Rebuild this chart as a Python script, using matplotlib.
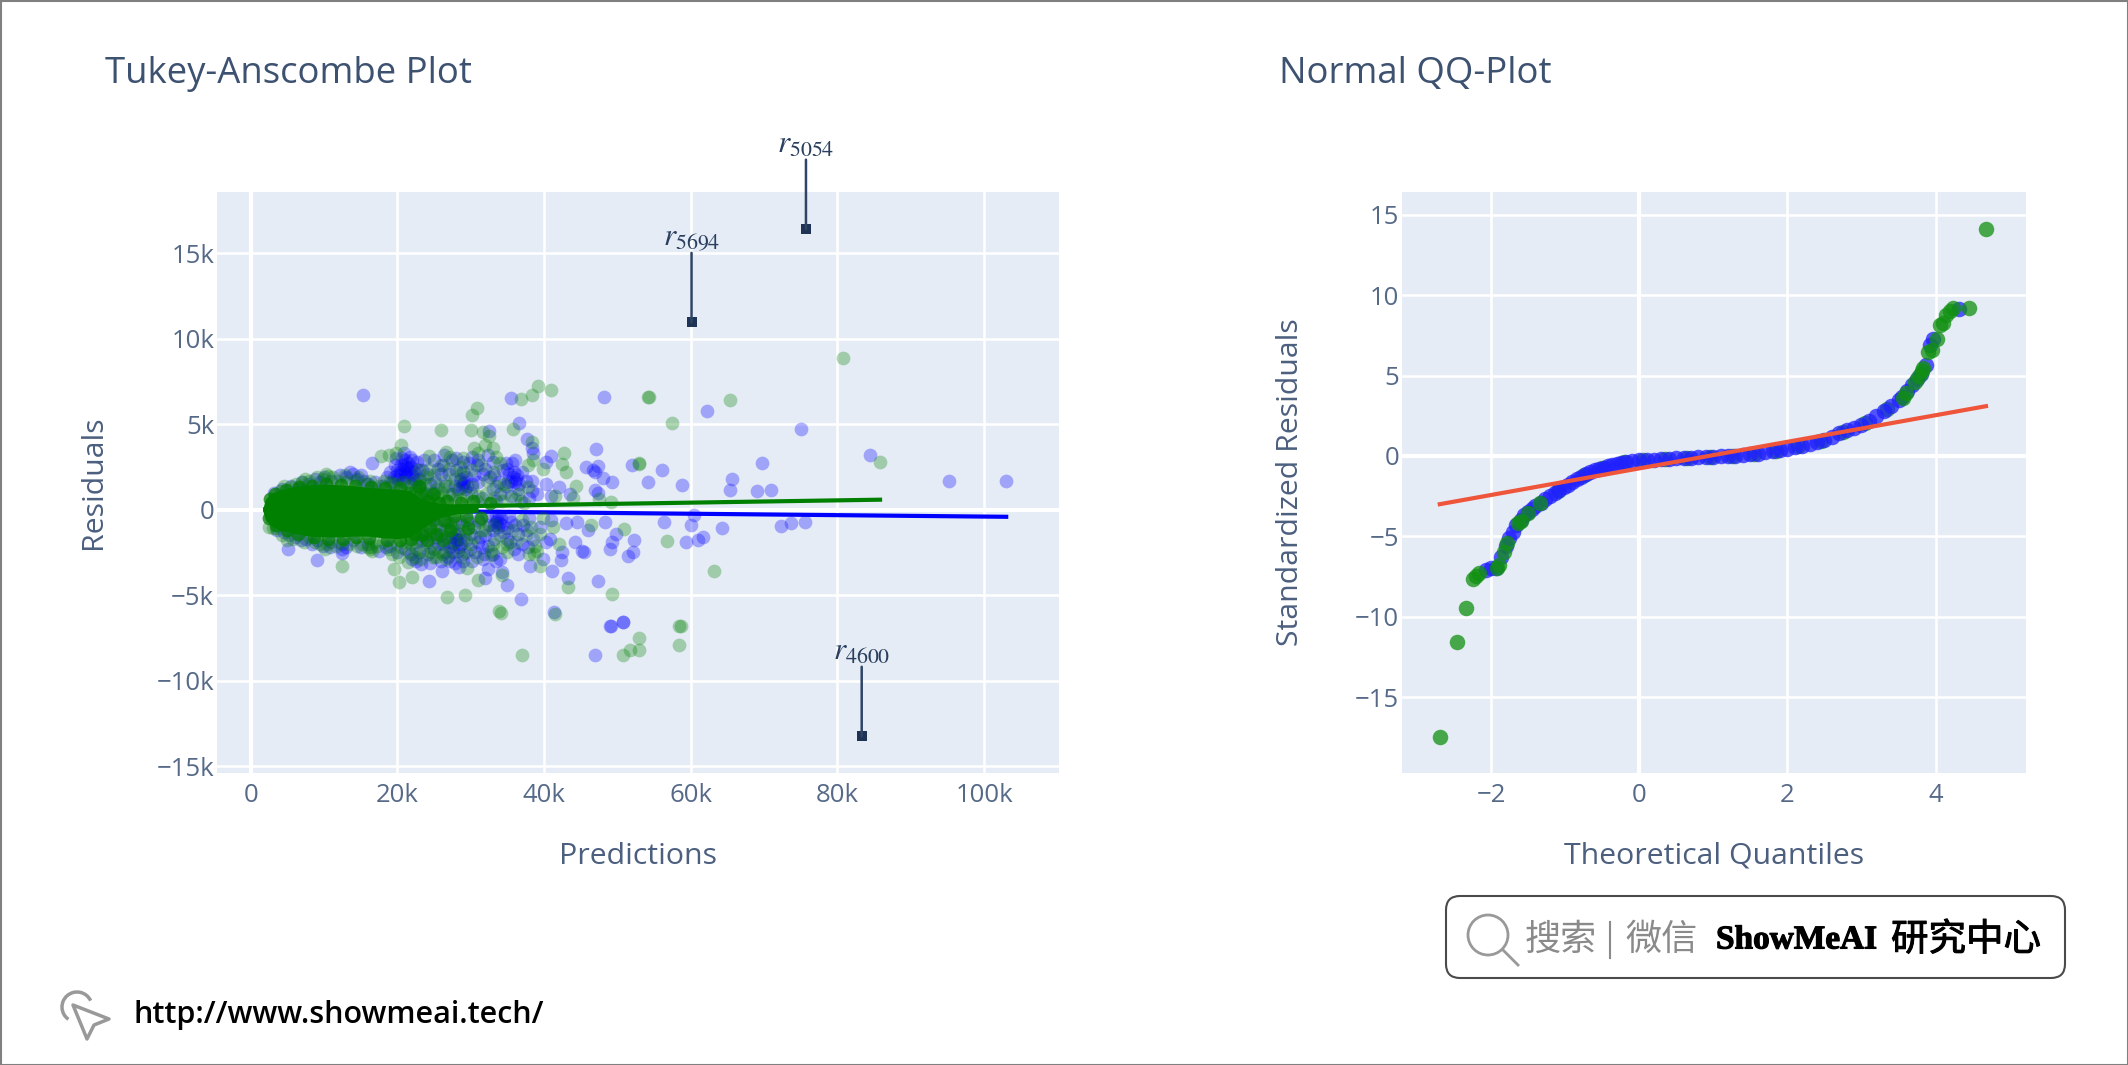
import matplotlib
matplotlib.use('Agg')
import matplotlib.pyplot as plt
import matplotlib.patheffects as pe
from matplotlib.patches import FancyBboxPatch, Arc, Circle, Polygon

plt.rcParams['font.family'] = ['Open Sans', 'DejaVu Sans']
plt.rcParams['mathtext.fontset'] = 'stix'

W, H = 2128, 1065

# residuals, both axes in thousands
blue_points = [
    (15.3, 6.69), (35.5, 6.53), (48.2, 6.59), (36.6, 5.07), (32.5, 4.6), (37.6, 4.15), (16.5, 2.75), (47.1, 3.57),
    (41.0, 3.12), (52.0, 2.6), (56.1, 2.34), (54.2, 1.62), (58.8, 1.42), (49.3, 1.62), (45.7, 2.5), (47.3, 2.53),
    (46.6, 2.3), (46.9, 2.2), (48.0, 1.85), (47.0, 1.13), (47.4, 1.0), (40.2, 2.79), (38.4, 3.6), (38.5, 3.3),
    (38.4, 1.7), (40.2, 1.5), (42.0, 1.3), (38.4, 1.1), (36.6, 1.5), (39.0, 0.9), (41.0, 0.8), (43.5, 0.9),
    (5.1, -2.32), (9.0, -2.96), (12.4, -2.28), (12.4, -2.53), (24.3, -4.17), (26.1, -3.59), (28.4, -3.35),
    (32.4, -3.5), (32.0, -3.98), (35.0, -4.39), (36.8, -5.22), (34.2, -3.65), (38.1, -3.31), (41.1, -3.59),
    (43.3, -3.98), (47.4, -4.17), (49.1, -6.8), (50.7, -6.57), (42.5, -2.5), (42.3, -2.95), (39.8, -2.9),
    (45.2, -2.4), (45.4, -2.5), (49.0, -2.3), (51.5, -2.7), (52.1, -2.5), (52.3, -1.8), (49.8, -1.4), (49.3, -1.9),
    (48.3, -0.7), (56.3, -0.7), (59.3, -1.9), (60.4, -0.3), (61.0, -1.8),
    (103.0, 1.7), (95.2, 1.7), (84.4, 3.2), (75.0, 4.7), (62.2, 5.75), (69.7, 2.7), (71.0, 1.15), (69.0, 1.1),
    (65.6, 1.8), (65.4, 1.15), (72.3, -0.97), (75.6, -0.75), (73.6, -0.8), (60.0, -0.9), (61.7, -1.6), (64.3, -1.05),
    (50.8, -6.6), (49.0, -6.8), (47.0, -8.5), (41.3, -6.0), (34.0, -2.9), (37.8, -2.2), (40.2, -1.9),
    (40.8, -1.7), (44.2, -1.9), (46.0, -1.2), (44.5, -0.7), (43.0, -0.8), (41.0, -0.6), (39.5, -1.0), (38.0, -0.5),
    # dense part of the cloud
    (20.0, 2.3), (20.5, 2.6), (21.0, 2.2), (21.5, 2.7), (22.0, 2.0), (22.5, 2.4), (19.5, 1.9), (20.8, 1.7),
    (21.8, 1.5), (23.0, 1.8), (19.0, 2.2), (20.0, 1.4), (22.0, 2.9), (21.0, 2.9), (20.3, 2.0), (21.4, 2.4),
    (21.2, 1.9), (22.6, 1.6), (24.5, 1.5), (25.5, 2.4), (26.2, 2.6), (27.0, 2.1), (28.0, 2.3), (28.5, 1.7),
    (28.9, 1.5), (29.2, 1.2), (28.6, 1.8), (29.8, 2.7), (30.5, 2.0), (31.0, 1.6), (32.0, 2.4), (32.6, 1.9),
    (33.0, 1.2), (34.0, 0.9), (35.7, 1.9), (35.2, 2.1), (36.0, 1.6), (36.5, 1.2), (35.5, 0.8), (34.8, 1.4),
    (13.0, 1.9), (13.5, 2.2), (14.5, 1.8), (15.5, 1.7), (16.0, 1.5), (17.0, 1.6), (18.0, 1.4), (11.0, 1.7),
    (9.5, 1.6), (8.0, 1.5), (6.5, 1.2), (4.5, -1.3), (6.0, -1.6), (7.5, -1.7), (9.0, -1.8), (11.0, -1.9),
    (12.5, -2.0), (14.0, -1.8), (16.0, -2.0), (17.5, -2.4), (19.0, -2.1), (20.0, -2.5), (21.0, -2.3), (22.0, -2.9),
    (23.0, -2.5), (24.0, -1.9), (24.5, -1.4), (25.0, -2.3), (25.5, -2.0), (26.0, -1.5), (26.5, -2.5), (27.0, -1.9),
    (27.5, -1.6), (28.0, -1.7), (28.3, -1.4), (28.6, -2.0), (27.2, -2.2), (26.5, -1.2), (30.0, -1.4), (30.5, -1.0),
    (31.0, -1.9), (31.5, -2.2), (32.0, -1.5), (32.5, -0.9), (33.0, -1.2), (33.6, -0.6), (33.9, -0.8), (33.4, -0.4),
    (34.5, -1.3), (35.0, -1.1), (35.5, -0.7), (36.0, -0.9), (29.5, -0.6), (27.8, -0.8), (25.2, -0.9), (23.5, -1.3),
    (23.8, 0.9), (25.0, 1.0), (26.5, 1.4), (27.5, 0.9), (30.0, 1.0), (31.5, 0.7), (33.5, 0.5), (36.8, 0.5),
    (19.7, 2.6), (20.6, 3.0), (21.2, 2.5), (22.3, 2.2), (23.4, 2.3), (20.1, 1.8), (19.2, 1.6), (18.6, 1.9),
    (22.9, 1.3), (24.0, 2.1), (25.1, 1.6), (26.0, 2.1), (27.4, 2.9), (27.9, 1.4), (29.0, 2.2), (29.4, 1.9),
    (30.2, 1.5), (30.9, 2.6), (31.6, 2.1), (33.2, 2.0), (33.9, 1.6), (34.4, 2.3), (35.0, 2.4), (36.3, 2.0),
    (21.8, -2.6), (22.5, -1.9), (23.4, -1.8), (24.2, -2.6), (25.4, -1.6), (26.2, -2.0), (26.9, -2.8), (27.6, -2.5),
    (28.2, -2.4), (28.9, -2.6), (29.4, -1.8), (29.9, -2.3), (30.6, -2.5), (31.3, -1.6), (31.8, -2.6), (32.3, -2.1),
    (33.1, -1.7), (33.7, -1.0), (34.1, -0.5), (34.9, -1.7), (35.4, -1.9), (36.4, -1.4), (37.1, -0.9), (37.6, -1.2),
    (12.2, 2.0), (14.0, 2.1), (15.0, 2.0), (10.0, 1.9), (8.8, 1.8), (7.0, 1.6), (5.5, 1.4), (4.2, 1.2), (3.2, 1.0),
    (3.6, -1.2), (5.2, -1.5), (6.8, -1.8), (8.3, -2.0), (9.8, -2.1), (10.8, -2.2), (13.0, -2.2), (15.0, -2.2), (18.4, -2.2),
    (22.4, -0.9), (24.8, -0.6), (26.8, -0.7), (28.8, -0.9), (31.0, -0.6), (32.2, -0.4), (35.2, -0.4), (37.9, 0.7),
    (19.8, 3.0), (20.9, 3.3), (21.7, 3.1), (22.7, 2.8), (23.6, 2.9), (25.0, 2.9), (26.4, 3.2), (28.0, 3.0), (28.9, 2.8),
    (30.1, 3.1), (31.0, 2.9), (32.4, 3.2), (33.0, 2.8), (34.8, 2.7), (35.6, 2.7), (36.0, 2.9), (37.0, 2.2), (37.5, 1.7),
    (27.1, -3.0), (27.9, -3.1), (25.9, -3.0), (24.4, -3.1), (23.2, -3.2), (22.6, -3.0), (30.2, -3.0), (31.6, -2.9),
    (33.0, -2.6), (33.5, -3.0), (35.9, -2.3), (36.5, -2.6), (37.0, -2.0), (38.5, -1.7), (29.0, -3.0), (28.4, -2.2),
    (27.9, -1.5), (28.1, -1.8), (27.7, -2.0), (28.5, -1.7), (33.5, -0.7), (33.8, -0.4), (33.2, -0.9), (34.2, -0.9),
    (35.5, 1.7), (35.9, 2.2), (36.2, 1.8), (35.1, 1.6), (28.8, 1.3), (29.1, 1.6), (28.3, 1.2), (29.5, 1.4),
    (20.4, 2.2), (20.7, 2.4), (21.1, 2.0), (21.6, 2.2), (21.9, 2.5), (20.9, 2.6), (22.2, 1.8), (19.9, 2.0),
]
green_points = [
    (39.2, 7.23), (41.0, 6.98), (38.4, 6.69), (36.8, 6.49), (30.9, 5.95), (30.1, 5.56), (20.9, 4.87), (26.0, 4.68),
    (30.0, 4.68), (31.6, 4.54), (35.7, 4.74), (54.2, 6.59), (57.4, 5.09), (20.5, 3.76), (17.7, 3.14), (19.8, 3.31),
    (18.9, 3.18), (24.3, 3.12), (26.6, 3.37), (27.2, 3.1), (38.4, 3.96), (42.7, 3.33), (42.5, 2.65), (43.0, 2.2),
    (44.3, 1.38), (53.0, 2.69), (49.1, 0.45), (56.8, -1.83), (50.9, -1.11), (46.4, -0.92), (2.5, -1.01), (12.5, -3.31),
    (19.5, -3.49), (20.2, -4.23), (22.0, -3.94), (26.8, -5.11), (29.2, -5.01), (34.1, -6.04), (41.5, -6.12),
    (49.3, -4.91), (43.2, -4.52), (58.4, -6.82), (31.0, -4.09), (29.5, -3.39), (42.0, -1.99), (34.3, -3.84),
    (39.5, -3.31), (38.6, -2.57), (35.0, -2.48), (32.7, -2.67), (29.3, -2.48), (25.2, -2.77), (21.4, -3.06),
    (20.2, -2.77), (16.4, -2.18), (10.1, -2.28), (5.0, -1.8), (7.0, 1.62), (10.6, 1.97), (11.8, 1.7), (14.3, 1.7),
    (32.0, 3.8), (33.0, 3.6), (33.5, 3.1), (34.0, 2.7), (31.0, 3.3), (30.5, 3.6), (37.8, 2.6), (38.5, 2.9), (39.8, 2.4),
    (32.5, 4.3), (33.0, 2.2), (34.5, 1.5), (28.5, 2.5), (29.0, 3.0), (25.0, 2.0), (26.5, 1.7), (24.0, 1.9), (23.0, 2.3),
    (65.4, 6.4), (80.8, 8.85), (85.8, 2.8), (63.2, -3.6), (58.6, -6.8), (58.4, -7.9), (52.9, -7.5), (52.9, -8.2),
    (51.7, -8.2), (50.7, -8.5), (37.0, -8.5), (33.9, -5.9), (54.3, 6.6), (53.0, 2.7), (47.5, 0.6), (44.0, 0.7), (41.5, 0.8),
    (19.0, 1.6), (21.5, 1.4), (22.5, 1.2), (24.0, 1.0), (25.5, 0.8), (27.0, 0.9), (28.5, 0.6), (31.0, 0.8),
    (22.8, -1.7), (24.5, -2.2), (25.8, -1.2), (26.2, -2.6), (27.5, -1.1), (29.2, -1.3), (30.0, -2.0), (31.5, -1.2),
    (33.0, -2.0), (35.0, -2.0), (37.5, -1.5), (38.8, -2.1), (39.0, -2.4), (20.5, -2.2), (21.8, -2.0), (18.0, -1.9),
    (19.2, -2.6), (23.5, -2.4), (12.0, -1.9), (14.5, -2.1), (9.5, -2.0), (16.8, -1.9), (8.0, -1.6), (3.4, -1.1),
    (4.0, 1.1), (5.5, 1.3), (8.0, 1.7), (9.8, 1.8), (13.0, 1.6), (15.8, 1.5), (17.5, 1.4), (25.5, 1.3),
    # green layer over the inner band
    (22.3, 1.6), (23.2, 1.1), (23.8, 1.5), (24.6, 0.7), (25.2, 1.2), (26.1, 1.0), (26.9, 1.4), (27.8, 0.6), (28.2, 1.1),
    (29.3, 0.8), (30.2, 1.3), (30.8, 0.5), (32.1, 0.9), (33.2, 0.7), (34.2, 0.5), (36.0, 0.6), (37.2, 0.4), (23.1, -0.9),
    (23.8, -1.4), (24.4, -0.7), (25.1, -1.6), (25.9, -0.6), (26.6, -1.6), (27.1, -0.8), (27.9, -1.9), (28.6, -0.7),
    (29.0, -1.7), (29.8, -0.8), (30.4, -1.6), (31.1, -0.7), (32.0, -1.2), (33.2, -0.9), (34.0, -1.5), (35.8, -1.2),
    (37.0, -0.6), (38.2, -1.0), (39.9, -0.5), (41.2, -1.0), (22.2, 0.8), (23.5, 0.6), (25.0, 0.5), (26.4, 0.6), (23.9, -0.5),
    (24.9, -1.0), (25.5, -0.5), (26.9, -1.1), (27.4, -0.5), (28.3, -1.2), (22.9, -1.1), (22.4, -0.6),
    (4.6, 1.4), (6.2, 1.5), (7.4, 1.8), (9.0, 1.9), (10.2, 2.1), (11.2, 1.9), (12.8, 2.0), (14.6, 1.9), (16.2, 1.7),
    (18.2, 1.7), (19.6, 1.5), (20.8, 1.6), (3.0, -1.1), (4.2, -1.5), (5.8, -1.7), (7.2, -1.9), (8.7, -1.9), (10.4, -2.0),
    (11.6, -2.1), (13.4, -2.0), (15.2, -2.0), (16.0, -2.2), (17.2, -2.1), (18.8, -2.3), (19.9, -2.0), (21.2, -1.9),
    (21.6, -2.5), (22.6, -2.3), (16.2, -2.3), (16.6, -2.4), (24.8, -2.8), (25.6, -2.5),
    (23.4, 1.7), (24.3, 2.4), (25.9, 2.6), (27.0, 2.4), (27.9, 1.8), (28.7, 2.1), (30.0, 2.3), (31.4, 2.6), (32.2, 1.7),
    (33.4, 1.4), (34.6, 1.0), (36.4, 0.9), (37.8, 1.3), (22.4, -2.8), (23.2, -2.9), (24.6, -2.5), (26.6, -2.9), (27.3, -2.4),
    (28.7, -2.8), (30.8, -2.8), (32.8, -2.4), (34.2, -2.2), (36.2, -1.9), (38.0, -2.6), (39.4, -1.4),
]
# points that pile up so much that the pale colour turns almost solid
green_pile = [
    (2.6, 0.6), (2.5, -0.5), (3.3, 0.9), (3.5, -0.9), (4.8, 1.15), (5.0, -1.2), (6.6, 1.3), (6.4, -1.4), (8.4, 1.4),
    (8.6, -1.6), (10.2, 1.5), (10.6, -1.7), (12.3, 1.45), (12.6, -1.7), (14.2, 1.4), (14.4, -1.6), (16.4, 1.3), (16.1, -1.65),
    (18.3, 1.25), (18.6, -1.75), (20.3, 1.25), (20.4, -1.8), (21.6, 1.0), (21.9, -1.7), (22.4, -1.4), (23.2, 0.9), (23.4, -1.5),
    (24.1, 0.5), (24.4, -1.1), (25.3, -1.4), (25.6, 0.4), (26.4, -0.6), (26.8, 0.5), (27.2, -1.2), (27.7, -0.4), (28.6, 0.4),
    (29.4, -0.4), (29.6, -1.1), (30.3, 0.5), (31.4, -0.5), (32.6, 0.4), (24.0, -1.8), (22.9, 1.4), (24.9, 0.9), (26.2, -1.8),
]
# solid part of the cloud next to the origin, where single points cannot be told apart
core_x = [1.6, 2.0, 2.8, 4.0, 6.0, 8.0, 10.0, 12.0, 14.0, 16.0, 18.0, 20.0, 21.8, 23.0, 24.5, 26.0, 28.0, 31.0]
core_up = [0.0, 0.6, 0.95, 1.15, 1.35, 1.45, 1.5, 1.45, 1.4, 1.3, 1.25, 1.2, 1.1, 0.7, 0.5, 0.35, 0.28, 0.2]
core_low = [0.0, -0.6, -0.95, -1.2, -1.4, -1.55, -1.6, -1.6, -1.55, -1.55, -1.65, -1.7, -1.6, -1.2, -0.8, -0.45, -0.25, -0.15]

fit_blue_x = [2.0, 103.0]
fit_blue_y = [0.0, -0.42]
fit_green_x = [2.0, 85.8]
fit_green_y = [0.02, 0.58]

outlier_x = [75.7, 60.1, 83.3]
outlier_y = [16.4, 10.95, -13.25]
outlier_names = ['5054', '5694', '4600']

x_ticks_left = [0, 20, 40, 60, 80, 100]
x_labels_left = ['0', '20k', '40k', '60k', '80k', '100k']
y_ticks_left = [-15, -10, -5, 0, 5, 10, 15]
y_labels_left = ['\u221215k', '\u221210k', '\u22125k', '0', '5k', '10k', '15k']

qq_blue = [
    (-2.07, -7.1), (-2.0, -7.0), (-1.93, -6.97), (-1.86, -6.3), (-1.8, -5.6), (-1.75, -5.1), (-1.7, -4.7), (-1.66, -4.3),
    (-1.6, -4.0), (-1.55, -3.7), (-1.5, -3.5), (-1.45, -3.3), (-1.4, -3.1), (-1.33, -2.9), (-1.27, -2.7), (-1.2, -2.5),
    (-1.14, -2.3), (-1.08, -2.1), (-1.02, -1.95), (-0.96, -1.8), (-0.9, -1.6), (-0.84, -1.45), (-0.78, -1.3), (-0.72, -1.15),
    (-0.66, -1.0), (-0.6, -0.9), (-0.54, -0.8), (-0.48, -0.72), (-0.42, -0.63), (-0.36, -0.55), (-0.3, -0.48), (-0.24, -0.43),
    (-0.18, -0.38), (-0.1, -0.33), (0.0, -0.28), (0.1, -0.25), (0.2, -0.22), (0.3, -0.2), (0.4, -0.18), (0.5, -0.15),
    (0.6, -0.13), (0.7, -0.1), (0.8, -0.08), (0.9, -0.06), (1.0, -0.04), (1.1, -0.02), (1.2, 0.0), (1.3, 0.03), (1.4, 0.06),
    (1.5, 0.1), (1.6, 0.15), (1.7, 0.22), (1.8, 0.28), (1.9, 0.35), (2.0, 0.45), (2.1, 0.55), (2.2, 0.65), (2.3, 0.77),
    (2.4, 0.88), (2.5, 1.0), (2.6, 1.2), (2.7, 1.4), (2.8, 1.6), (2.9, 1.75), (3.0, 1.95), (3.1, 2.2), (3.2, 2.5), (3.3, 2.8),
    (3.4, 3.1), (3.5, 3.5), (3.55, 3.7), (3.62, 4.05), (3.68, 4.4), (3.75, 4.8), (3.8, 5.1), (3.87, 5.65), (3.93, 6.9),
    (3.97, 7.3), (4.31, 9.15),
]
qq_green = [
    (-2.69, -17.5), (-2.46, -11.6), (-2.33, -9.46), (-2.24, -7.65), (-2.2, -7.5), (-2.16, -7.3), (-1.92, -6.95), (-1.89, -6.8),
    (-1.83, -6.0), (-1.78, -5.4), (-1.64, -4.2), (-1.6, -4.05), (-1.5, -3.55), (-1.34, -2.95), (3.56, 3.6), (3.6, 3.9),
    (3.72, 4.6), (3.78, 4.95), (3.82, 5.3), (3.83, 5.5), (3.9, 6.5), (3.95, 6.6), (4.02, 7.3), (4.06, 8.15), (4.1, 8.3),
    (4.14, 8.77), (4.2, 9.0), (4.23, 9.2), (4.45, 9.2), (4.68, 14.15),
]
# green points that sit under the blue ones in the middle of the curve
qq_green_under = [
    (-1.1, -2.2), (-0.75, -1.2), (-0.5, -0.75), (-0.2, -0.4), (0.05, -0.27), (0.35, -0.18), (0.65, -0.11), (0.95, -0.05),
    (1.25, 0.02), (1.55, 0.12), (1.85, 0.32), (2.15, 0.6), (2.45, 0.95), (2.75, 1.5), (3.05, 2.05), (3.35, 2.95),
]
qq_line_x = [-2.69, 4.68]
qq_line_y = [-3.0, 3.1]

x_ticks_right = [-2, 0, 2, 4]
x_labels_right = ['\u22122', '0', '2', '4']
y_ticks_right = [-15, -10, -5, 0, 5, 10, 15]
y_labels_right = ['\u221215', '\u221210', '\u22125', '0', '5', '10', '15']


def make_axes(fig, left, top, right, bottom):
    ax = fig.add_axes([left / W, 1 - bottom / H, (right - left) / W, (bottom - top) / H])
    ax.set_facecolor('#E5ECF6')
    for s in ax.spines.values():
        s.set_visible(False)
    ax.set_axisbelow(True)
    ax.grid(True, color='white', linewidth=1.8)
    ax.tick_params(length=0, labelsize=18.5, labelcolor='#566a88')
    ax.tick_params(axis='x', pad=7)
    ax.tick_params(axis='y', pad=2)
    return ax


fig = plt.figure(figsize=(W / 100, H / 100), dpi=100)

# left panel
ax1 = make_axes(fig, 217, 192, 1059, 773)
ax1.set_xlim(-4.6, 110.2)
ax1.set_ylim(-15.4, 18.57)
ax1.axvline(0, color='white', linewidth=3.0, zorder=0.8)
ax1.axhline(0, color='white', linewidth=3.0, zorder=0.8)
ax1.scatter([p[0] for p in blue_points], [p[1] for p in blue_points], s=98, color='blue', alpha=0.3, linewidths=0, zorder=2)
ax1.plot(fit_blue_x, fit_blue_y, color='blue', linewidth=3, zorder=2.05)
ax1.scatter([p[0] for p in green_points], [p[1] for p in green_points], s=98, color='green', alpha=0.3, linewidths=0, zorder=2.1)
ax1.scatter([p[0] for p in green_pile], [p[1] for p in green_pile], s=98, color='green', alpha=0.75, linewidths=0, zorder=2.15)
ax1.fill_between(core_x, core_low, core_up, color='green', linewidth=0, zorder=2.2)
ax1.plot(fit_green_x, fit_green_y, color='green', linewidth=3, zorder=3.1)
ax1.scatter(outlier_x, outlier_y, s=55, color='#1f3355', marker='s', linewidths=0, zorder=4)
for ox, oy, name in zip(outlier_x, outlier_y, outlier_names):
    ax1.annotate('$r_{%s}$' % name, xy=(ox, oy), xytext=(0, 50), textcoords='offset points',
                 ha='center', va='bottom', fontsize=22.5, color='#2a3f5f', zorder=5, annotation_clip=False,
                 arrowprops=dict(arrowstyle='-', color='#2f4566', linewidth=1.8, shrinkA=0, shrinkB=0,
                                 patchA=None, relpos=(0.5, 0)))
ax1.set_xticks(x_ticks_left, x_labels_left)
ax1.set_yticks(y_ticks_left, y_labels_left)
ax1.set_xlabel('Predictions', fontsize=21.8, color='#4c5f7e')
ax1.xaxis.set_label_coords(0.5, -0.118)
ax1.set_ylabel('Residuals', fontsize=21.8, color='#4c5f7e')
ax1.yaxis.set_label_coords(-0.13, 0.5)

# right panel
ax2 = make_axes(fig, 1402, 192, 2026, 773)
ax2.set_xlim(-3.2, 5.22)
ax2.set_ylim(-19.73, 16.43)
ax2.axvline(0, color='white', linewidth=3.0, zorder=0.8)
ax2.axhline(0, color='white', linewidth=3.0, zorder=0.8)
ax2.scatter([p[0] for p in qq_green_under], [p[1] for p in qq_green_under], s=125, color='#109010', alpha=0.75, linewidths=0, zorder=1.9)
ax2.scatter([p[0] for p in qq_blue], [p[1] for p in qq_blue], s=125, color='#2020ff', alpha=0.75, linewidths=0, zorder=2)
ax2.scatter([p[0] for p in qq_green], [p[1] for p in qq_green], s=125, color='#109010', alpha=0.75, linewidths=0, zorder=2.1)
ax2.plot(qq_line_x, qq_line_y, color='#EF553B', linewidth=3, zorder=3)
ax2.set_xticks(x_ticks_right, x_labels_right)
ax2.set_yticks(y_ticks_right, y_labels_right)
ax2.set_xlabel('Theoretical Quantiles', fontsize=21.8, color='#4c5f7e')
ax2.xaxis.set_label_coords(0.5, -0.118)
ax2.set_ylabel('Standardized Residuals', fontsize=21.8, color='#4c5f7e')
ax2.yaxis.set_label_coords(-0.155, 0.5)

# overlay in pixel coordinates for titles, frame and watermark
ov = fig.add_axes([0, 0, 1, 1], zorder=10)
ov.set_xlim(0, W)
ov.set_ylim(H, 0)
ov.axis('off')
ov.patch.set_alpha(0)
ov.add_patch(plt.Rectangle((0.5, 0.5), W - 1, H - 1, fill=False, edgecolor='#808080', linewidth=1.5))
ov.text(105, 74, 'Tukey-Anscombe Plot', fontsize=26.3, color='#3d5170', va='center', ha='left')
ov.text(1279, 74, 'Normal QQ-Plot', fontsize=26.3, color='#3d5170', va='center', ha='left')

ov.add_patch(FancyBboxPatch((1446, 896), 619, 82, boxstyle='round,pad=0,rounding_size=1', mutation_scale=14,
                            fill=False, edgecolor='#4a4a4a', linewidth=1.5))
ov.add_patch(Circle((1488, 935), 20, fill=False, edgecolor='#999999', linewidth=2))
ov.plot([1503, 1518], [950, 965], color='#999999', linewidth=2)
cjk = ['Noto Sans CJK SC', 'DejaVu Sans']
ov.text(1525, 940, '搜索', fontsize=26, color='#8a8a8a', family=cjk, weight='light', va='center', ha='left')
ov.plot([1610, 1610], [922, 958], color='#8a8a8a', linewidth=1.5)
ov.text(1625, 940, '微信', fontsize=26, color='#8a8a8a', family=cjk, weight='light', va='center', ha='left')
ov.text(1716, 940, 'ShowMeAI', fontsize=24, color='black', family='Liberation Serif', weight='bold', va='center', ha='left',
        path_effects=[pe.withStroke(linewidth=0.8, foreground='black')])
ov.text(1891, 940, '研究中心', fontsize=27, color='black', family=cjk, weight='medium', va='center', ha='left',
        path_effects=[pe.withStroke(linewidth=0.7, foreground='black')])

ov.add_patch(Polygon([(73, 1005), (109, 1019), (94, 1025), (87, 1039)], closed=True, fill=False,
                     edgecolor='#999999', linewidth=2.5, joinstyle='round'))
ov.add_patch(Arc((77, 1007), 30, 30, theta1=125, theta2=335, edgecolor='#999999', linewidth=2.5))
ov.text(134, 1015, 'http://www.showmeai.tech/', fontsize=22.0, color='black', family='Open Sans', weight='semibold',
        va='center', ha='left')

fig.savefig('out.png', dpi=100)
